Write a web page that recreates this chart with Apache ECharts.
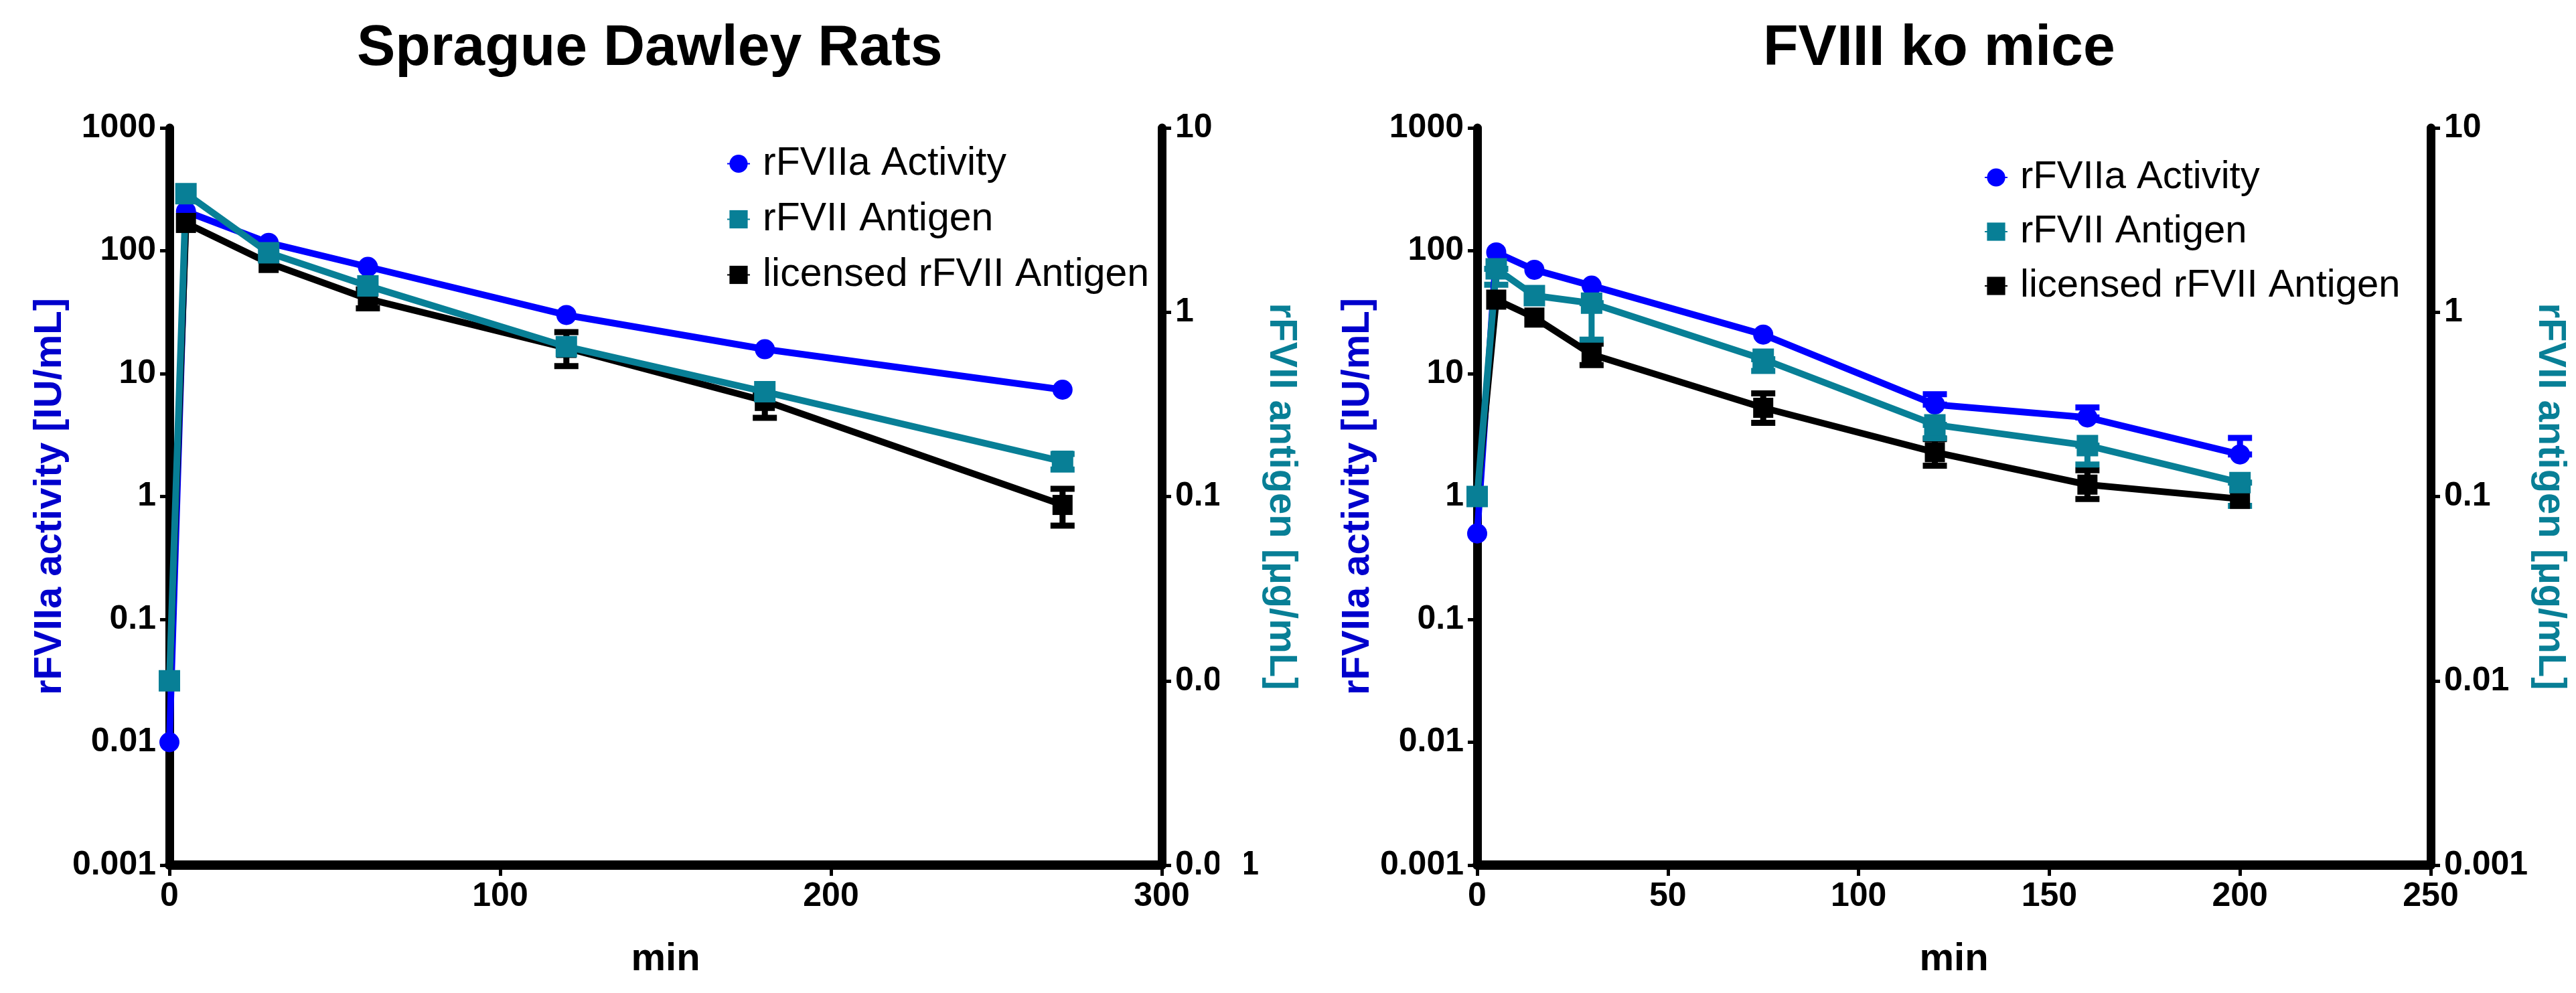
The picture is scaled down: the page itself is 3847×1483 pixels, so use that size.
<!DOCTYPE html>
<html>
<head>
<meta charset="utf-8">
<script src="https://cdn.jsdelivr.net/npm/echarts@6/dist/echarts.min.js"></script>
<style>
  html, body { margin: 0; padding: 0; background: #fff; }
  #chart { width: 3847px; height: 1483px; }
</style>
</head>
<body>
<div id="chart"></div>
<script>
// Sprague Dawley Rats (min, IU/mL for activity, ug/mL for antigen)
var ratTime = [0, 5, 30, 60, 120, 180, 270];
var ratActivity = [0.01, 209, 116, 74, 30, 15.8, 7.4];
var ratAntigen = [0.01, 4.4, 2.1, 1.39, 0.65, 0.37, 0.155];
var ratAntigenLow = [null, null, null, null, null, null, 0.14];
var ratAntigenHigh = [null, null, null, null, null, null, 0.17];
var ratLicensed = [0.01, 3.05, 1.85, 1.18, 0.64, 0.33, 0.09];
var ratLicensedLow = [null, null, null, 1.05, 0.51, 0.267, 0.0695];
var ratLicensedHigh = [null, null, null, 1.33, 0.78, 0.36, 0.11];

// FVIII ko mice
var miceTime = [0, 5, 15, 30, 75, 120, 160, 200];
var miceActivity = [0.5, 97, 70, 52, 20.8, 5.6, 4.4, 2.2];
var miceActivityHigh = [null, null, null, null, null, 6.8, 5.3, 3.0];
var miceAntigen = [0.1, 1.72, 1.23, 1.12, 0.556, 0.245, 0.189, 0.119];
var miceAntigenLow = [null, 1.41, null, 0.71, 0.48, 0.207, 0.149, 0.089];
var miceLicensed = [0.1, 1.17, 0.935, 0.59, 0.303, 0.174, 0.116, 0.097];
var miceLicensedLow = [null, null, null, 0.516, 0.251, 0.147, 0.097, null];
var miceLicensedHigh = [null, null, null, 0.675, 0.363, 0.205, 0.139, null];

var seriesNames = ['rFVIIa Activity', 'rFVII Antigen', 'licensed rFVII Antigen'];
var blue = '#0000ff', teal = '#087f96', black = '#000000';
var font = 'Liberation Sans, Arial, sans-serif';

function pairs(t, v) {
  return t.map(function (x, i) { return [x, v[i]]; });
}
function errs(t, v, lo, hi) {
  var out = [];
  t.forEach(function (x, i) {
    var l = lo ? lo[i] : null, h = hi ? hi[i] : null;
    if (l == null && h == null) return;
    out.push([x, l == null ? v[i] : l, h == null ? v[i] : h]);
  });
  return out;
}
function logLabel(v) {
  return String(Number(Number(v).toPrecision(1)));
}

function errSeries(data, color, xi, yi) {
  return {
    type: 'custom', xAxisIndex: xi, yAxisIndex: yi, clip: false,
    encode: { x: 0, y: [1, 2] },
    data: data,
    renderItem: function (params, api) {
      var x = api.value(0);
      var lo = api.coord([x, api.value(1)]);
      var hi = api.coord([x, api.value(2)]);
      var w = 18;
      var st = { stroke: color, lineWidth: 9 };
      return { type: 'group', children: [
        { type: 'line', shape: { x1: lo[0], y1: lo[1], x2: hi[0], y2: hi[1] }, style: st },
        { type: 'line', shape: { x1: lo[0] - w, y1: lo[1], x2: lo[0] + w, y2: lo[1] }, style: st },
        { type: 'line', shape: { x1: hi[0] - w, y1: hi[1], x2: hi[0] + w, y2: hi[1] }, style: st }
      ] };
    }
  };
}
function lineSeries(name, data, color, symbol, size, xi, yi) {
  return {
    name: name, type: 'line', xAxisIndex: xi, yAxisIndex: yi, clip: false,
    data: data, symbol: symbol, symbolSize: size,
    itemStyle: { color: color },
    lineStyle: { color: color, width: 10 }
  };
}

function xAxis(grid, max, step) {
  return {
    type: 'value', gridIndex: grid, min: 0, max: max, interval: step,
    name: 'min', nameLocation: 'middle', nameGap: 112,
    nameTextStyle: { fontSize: 58, fontWeight: 'bold', color: '#000', fontFamily: font },
    axisLine: { onZero: false, lineStyle: { color: '#000', width: 14 } },
    axisTick: { length: 16, lineStyle: { width: 5, color: '#000' } },
    axisLabel: { fontSize: 50, fontWeight: 'bold', color: '#000', margin: 22, fontFamily: font },
    splitLine: { show: false }
  };
}
function yAxis(grid, pos, min, max, split, name, color) {
  return {
    type: 'log', logBase: 10, gridIndex: grid, position: pos, min: min, max: max, splitNumber: split,
    name: name, nameLocation: 'middle', nameGap: pos === 'right' ? 132 : 142,
    nameRotate: pos === 'right' ? -90 : 90,
    nameTextStyle: { fontSize: 58, fontWeight: 'bold', color: color, fontFamily: font },
    axisLine: { onZero: false, lineStyle: { color: '#000', width: 13 } },
    axisTick: { length: 14, lineStyle: { width: 5, color: '#000' } },
    minorTick: { show: false },
    axisLabel: { fontSize: 50, fontWeight: 'bold', color: '#000', margin: 20, fontFamily: font, formatter: logLabel },
    splitLine: { show: false }
  };
}

var myChart = echarts.init(document.getElementById('chart'));
myChart.setOption({
  backgroundColor: '#fff',
  animation: false,
  title: [
    { text: 'Sprague Dawley Rats', left: 533, top: 30, padding: 0,
      textStyle: { fontSize: 86, fontWeight: 'bold', color: '#000', fontFamily: font } },
    { text: 'FVIII ko mice', left: 2633, top: 30, padding: 0,
      textStyle: { fontSize: 86, fontWeight: 'bold', color: '#000', fontFamily: font } }
  ],
  legend: [
    { orient: 'vertical', left: 1085, top: 215, itemWidth: 34, itemHeight: 34, itemGap: 24,
      data: seriesNames, padding: 0,
      textStyle: { fontSize: 59, color: '#000', fontFamily: font, padding: [0, 0, 0, 14] } },
    { orient: 'vertical', left: 2963, top: 236, itemWidth: 34, itemHeight: 34, itemGap: 23,
      data: seriesNames, padding: 0,
      textStyle: { fontSize: 58, color: '#000', fontFamily: font, padding: [0, 0, 0, 14] } }
  ],
  grid: [
    { left: 253, right: 2112, top: 191, bottom: 191 },
    { left: 2206, right: 217, top: 191, bottom: 191 }
  ],
  xAxis: [xAxis(0, 300, 100), xAxis(1, 250, 50)],
  yAxis: [
    yAxis(0, 'left', 0.001, 1000, 6, 'rFVIIa activity [IU/mL]', '#0000cc'),
    yAxis(0, 'right', 0.001, 10, 4, 'rFVII antigen [µg/mL]', teal),
    yAxis(1, 'left', 0.001, 1000, 6, 'rFVIIa activity [IU/mL]', '#0000cc'),
    yAxis(1, 'right', 0.001, 10, 4, 'rFVII antigen [µg/mL]', teal)
  ],
  series: [
    // rats
    lineSeries(seriesNames[0], pairs(ratTime, ratActivity), blue, 'circle', 30, 0, 0),
    errSeries(errs(ratTime, ratLicensed, ratLicensedLow, ratLicensedHigh), black, 0, 1),
    lineSeries(seriesNames[2], pairs(ratTime, ratLicensed), black, 'rect', 30, 0, 1),
    errSeries(errs(ratTime, ratAntigen, ratAntigenLow, ratAntigenHigh), teal, 0, 1),
    lineSeries(seriesNames[1], pairs(ratTime, ratAntigen), teal, 'rect', 32, 0, 1),
    // mice
    errSeries(errs(miceTime, miceActivity, null, miceActivityHigh), blue, 1, 2),
    lineSeries(seriesNames[0], pairs(miceTime, miceActivity), blue, 'circle', 30, 1, 2),
    errSeries(errs(miceTime, miceLicensed, miceLicensedLow, miceLicensedHigh), black, 1, 3),
    lineSeries(seriesNames[2], pairs(miceTime, miceLicensed), black, 'rect', 30, 1, 3),
    errSeries(errs(miceTime, miceAntigen, miceAntigenLow, null), teal, 1, 3),
    lineSeries(seriesNames[1], pairs(miceTime, miceAntigen), teal, 'rect', 32, 1, 3)
  ],
  graphic: [
    // the left panel's right-hand labels are cut off in the source figure
    { type: 'rect', z: 100, shape: { x: 1821, y: 650, width: 37, height: 680 }, style: { fill: '#fff' } }
  ]
});
</script>
</body>
</html>
